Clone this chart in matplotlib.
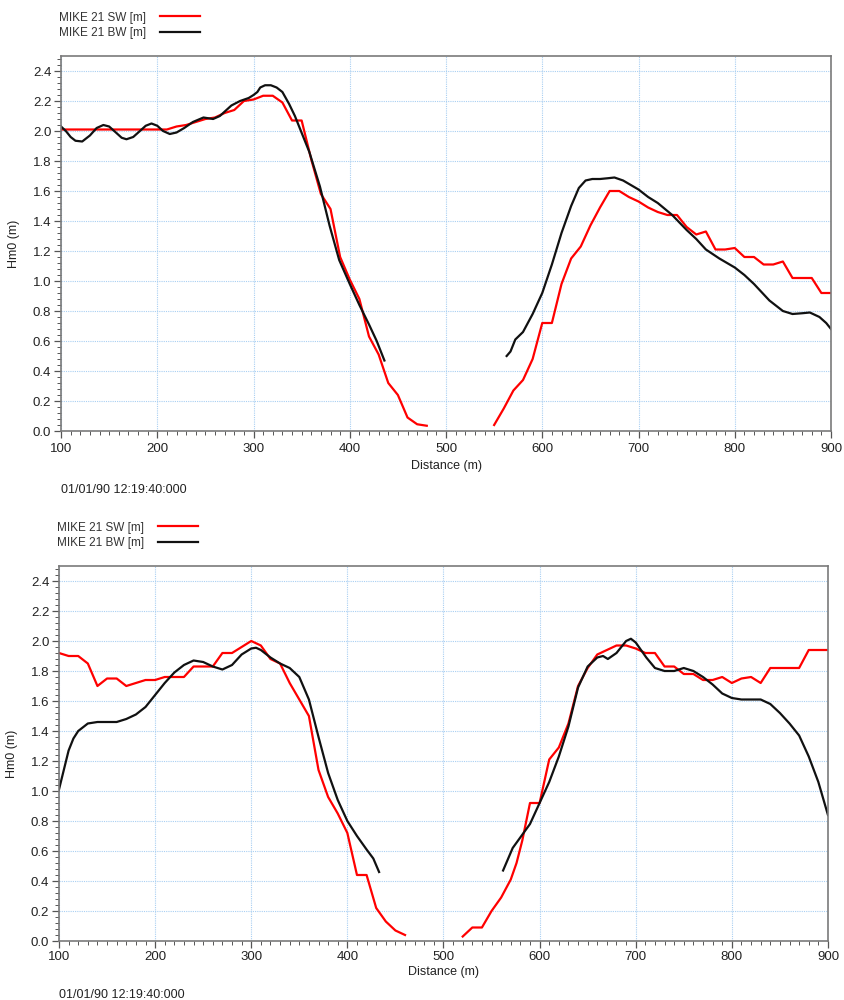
import numpy as np
import matplotlib.pyplot as plt
from matplotlib.ticker import MultipleLocator, FormatStrFormatter

plt.rcParams['font.family'] = ['Liberation Sans', 'DejaVu Sans']

nan = np.nan

# ---- upper panel ----
sw1_x = [100, 110, 120, 130, 140, 150, 160, 170, 180, 190, 200, 210, 220, 230, 240, 250,
         260, 270, 280, 290, 300, 310, 320, 330, 340, 350, 360, 370, 380, 390, 400, 410,
         420, 430, 440, 450, 460, 470, 480, nan,
         550, 560, 570, 580, 590, 600, 610, 620, 630, 640, 650, 660, 670, 680, 690, 700,
         710, 720, 730, 740, 750, 760, 770, 780, 790, 800, 810, 820, 830, 840, 850, 860,
         870, 880, 890, 900]
sw1_y = [2.01, 2.01, 2.01, 2.01, 2.01, 2.01, 2.01, 2.01, 2.01, 2.01, 2.01, 2.01, 2.03, 2.04, 2.06, 2.08,
         2.09, 2.12, 2.14, 2.20, 2.21, 2.235, 2.235, 2.19, 2.07, 2.07, 1.81, 1.58, 1.48, 1.16, 1.01, 0.88,
         0.63, 0.51, 0.32, 0.24, 0.09, 0.045, 0.035, nan,
         0.04, 0.15, 0.27, 0.34, 0.48, 0.72, 0.72, 0.98, 1.15, 1.23, 1.37, 1.49, 1.60, 1.60, 1.56, 1.53,
         1.49, 1.46, 1.44, 1.44, 1.36, 1.31, 1.33, 1.21, 1.21, 1.22, 1.16, 1.16, 1.11, 1.11, 1.13, 1.02,
         1.02, 1.02, 0.92, 0.92]

bw1_x = [100, 105, 110, 115, 122, 130, 137, 144, 150, 157, 163, 168, 175, 182, 188, 194,
         200, 206, 213, 220, 228, 237, 248, 258, 265, 277, 286, 295, 300, 304, 307, 312,
         318, 324, 330, 337, 343, 348, 358, 369, 379, 389, 400, 410, 420, 428, 436, nan,
         563, 567, 572, 580, 590, 600, 610, 620, 630, 638, 645, 652, 660, 668, 675, 684,
         692, 700, 710, 720, 735, 750, 760, 770, 784, 800, 810, 820, 836, 850, 860, 870,
         878, 888, 895, 900]
bw1_y = [2.03, 2.00, 1.96, 1.935, 1.93, 1.97, 2.02, 2.04, 2.03, 1.99, 1.955, 1.945, 1.96, 2.00, 2.035, 2.05,
         2.035, 2.00, 1.98, 1.99, 2.02, 2.06, 2.09, 2.08, 2.10, 2.17, 2.20, 2.22, 2.24, 2.26, 2.29, 2.305,
         2.305, 2.29, 2.26, 2.18, 2.10, 2.02, 1.86, 1.63, 1.37, 1.14, 0.98, 0.84, 0.71, 0.60, 0.47, nan,
         0.50, 0.53, 0.61, 0.66, 0.78, 0.92, 1.11, 1.32, 1.50, 1.62, 1.67, 1.68, 1.68, 1.685, 1.69, 1.67,
         1.64, 1.61, 1.56, 1.52, 1.44, 1.34, 1.28, 1.21, 1.15, 1.09, 1.04, 0.98, 0.87, 0.80, 0.78, 0.785,
         0.79, 0.76, 0.72, 0.68]

# ---- lower panel ----
sw2_x = [100, 110, 120, 130, 140, 150, 160, 170, 180, 190, 200, 210, 220, 230, 240, 250,
         260, 270, 280, 290, 300, 310, 320, 330, 340, 350, 360, 370, 380, 390, 400, 410,
         420, 430, 440, 450, 460, nan,
         520, 530, 540, 550, 560, 570, 576, 582, 590, 600, 610, 620, 630, 640, 650, 660,
         670, 680, 690, 700, 710, 720, 730, 740, 750, 760, 770, 780, 790, 800, 810, 820,
         830, 840, 850, 860, 870, 880, 890, 900]
sw2_y = [1.92, 1.90, 1.90, 1.85, 1.70, 1.75, 1.75, 1.70, 1.72, 1.74, 1.74, 1.76, 1.76, 1.76, 1.83, 1.83,
         1.83, 1.92, 1.92, 1.96, 2.00, 1.97, 1.88, 1.85, 1.72, 1.61, 1.50, 1.14, 0.96, 0.85, 0.72, 0.44,
         0.44, 0.22, 0.13, 0.07, 0.04, nan,
         0.03, 0.09, 0.09, 0.20, 0.29, 0.41, 0.52, 0.67, 0.92, 0.92, 1.21, 1.29, 1.45, 1.70, 1.82, 1.91,
         1.94, 1.97, 1.97, 1.95, 1.92, 1.92, 1.83, 1.83, 1.78, 1.78, 1.74, 1.74, 1.76, 1.72, 1.75, 1.76,
         1.72, 1.82, 1.82, 1.82, 1.82, 1.94, 1.94, 1.94]

bw2_x = [100, 105, 110, 115, 120, 130, 140, 160, 170, 180, 190, 200, 210, 220, 230, 240,
         250, 260, 270, 280, 290, 300, 305, 310, 320, 330, 340, 350, 360, 370, 380, 390,
         400, 410, 420, 427, 433, nan,
         562, 572, 581, 590, 600, 610, 620, 630, 640, 650, 660, 666, 671, 680, 690, 695,
         700, 711, 720, 730, 740, 750, 760, 770, 780, 790, 800, 810, 830, 840, 850, 860,
         870, 880, 890, 900]
bw2_y = [1.01, 1.14, 1.27, 1.35, 1.40, 1.45, 1.46, 1.46, 1.48, 1.51, 1.56, 1.64, 1.72, 1.79, 1.84, 1.87,
         1.86, 1.83, 1.81, 1.84, 1.91, 1.95, 1.955, 1.94, 1.89, 1.85, 1.82, 1.76, 1.61, 1.36, 1.12, 0.94,
         0.80, 0.70, 0.61, 0.55, 0.46, nan,
         0.47, 0.62, 0.70, 0.78, 0.92, 1.06, 1.23, 1.43, 1.69, 1.83, 1.89, 1.90, 1.88, 1.92, 2.00, 2.015,
         1.99, 1.89, 1.82, 1.80, 1.80, 1.82, 1.80, 1.76, 1.71, 1.65, 1.62, 1.61, 1.61, 1.58, 1.52, 1.45,
         1.37, 1.23, 1.06, 0.84]

timestamp = '01/01/90 12:19:40:000'

fig = plt.figure(figsize=(8.44, 10), dpi=100)
ax1 = fig.add_axes([0.0723, 0.569, 0.9123, 0.375])
ax2 = fig.add_axes([0.0699, 0.059, 0.9111, 0.375])

for ax, sx, sy, bx, by, tpad, xlpad in [(ax1, sw1_x, sw1_y, bw1_x, bw1_y, 4, 3),
                                        (ax2, sw2_x, sw2_y, bw2_x, bw2_y, 2, 2)]:
    ax.plot(sx, sy, color='#ff0000', lw=1.6, label='MIKE 21 SW [m]')
    ax.plot(bx, by, color='#111111', lw=1.6, label='MIKE 21 BW [m]')
    ax.set_xlim(100, 900)
    ax.set_ylim(0, 2.5)
    ax.xaxis.set_major_locator(MultipleLocator(100))
    ax.xaxis.set_minor_locator(MultipleLocator(10))
    ax.yaxis.set_minor_locator(MultipleLocator(0.04))
    ax.yaxis.set_major_formatter(FormatStrFormatter('%.1f'))
    ax.set_yticks(np.arange(0, 2.41, 0.2))
    ax.grid(True, which='major', color='#a9cff2', ls=(0, (1, 1)), lw=0.8)
    ax.tick_params(which='major', direction='out', length=5, width=0.9, color='#555555',
                   labelsize=9.5, labelcolor='#222222')
    ax.tick_params(axis='x', pad=tpad)
    ax.tick_params(axis='y', pad=2)
    ax.tick_params(which='minor', direction='out', length=3, width=0.7, color='#555555')
    ax.tick_params(top=False, right=False)
    for s in ax.spines.values():
        s.set_color('#7a7a7a')
        s.set_linewidth(1.2)
    ax.set_xlabel('Distance (m)', fontsize=9, labelpad=xlpad, color='#222222')
    ax.set_ylabel('Hm0 (m)', fontsize=9, labelpad=9, color='#222222')
    leg = ax.legend(loc='lower left', bbox_to_anchor=(-0.003, 1.045), frameon=False,
                    markerfirst=False, fontsize=8.5, handlelength=3.4, handletextpad=1.2,
                    labelspacing=0.3, borderpad=0, borderaxespad=0)
    for t in leg.get_texts():
        t.set_color('#333333')

fig.text(0.0723, 0.51, timestamp, fontsize=9, color='#222222', va='center')
fig.text(0.0699, 0.005, timestamp, fontsize=9, color='#222222', va='center')

fig.savefig('out.png', dpi=100)
